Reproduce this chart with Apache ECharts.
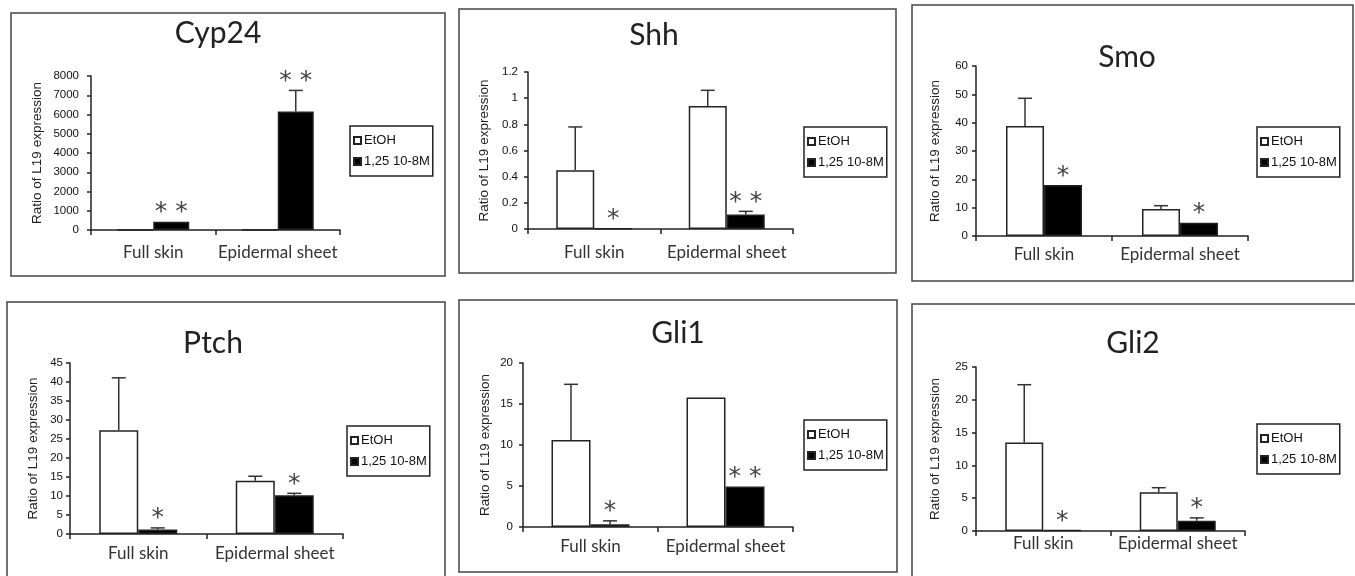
<!DOCTYPE html>
<html><head><meta charset="utf-8">
<script src="https://cdn.jsdelivr.net/npm/echarts@6/dist/echarts.min.js"></script>
<style>html,body{margin:0;padding:0;background:#fff}#c{width:1355px;height:576px}</style>
</head><body><div id="c"></div>
<script>
// ---- data ----
const categories = ['Full skin', 'Epidermal sheet'];
const seriesNames = ['EtOH', '1,25 10-8M'];
const yAxisName = 'Ratio of L19 expression';

const cyp24EtOH = [0, 0];
const cyp24EtOHErr = [0, 0];
const cyp24Vit = [430, 6150];
const cyp24VitErr = [0, 1100];
const cyp24Sig = ['**', '**'];

const shhEtOH = [0.45, 0.94];
const shhEtOHErr = [0.33, 0.12];
const shhVit = [0.003, 0.11];
const shhVitErr = [0, 0.025];
const shhSig = ['*', '**'];

const smoEtOH = [38.8, 9.5];
const smoEtOHErr = [9.8, 1.2];
const smoVit = [18.0, 4.7];
const smoVitErr = [0, 0];
const smoSig = ['*', '*'];

const ptchEtOH = [27.3, 14.0];
const ptchEtOHErr = [13.8, 1.2];
const ptchVit = [1.2, 10.2];
const ptchVitErr = [0.4, 0.5];
const ptchSig = ['*', '*'];

const gli1EtOH = [10.6, 15.8];
const gli1EtOHErr = [6.8, 0];
const gli1Vit = [0.35, 4.95];
const gli1VitErr = [0.4, 0];
const gli1Sig = ['*', '**'];

const gli2EtOH = [13.5, 5.9];
const gli2EtOHErr = [8.8, 0.7];
const gli2Vit = [0.15, 1.55];
const gli2VitErr = [0, 0.45];
const gli2Sig = ['*', '*'];

const panels = [
  {title:'Cyp24', etoh:cyp24EtOH, etohErr:cyp24EtOHErr, vit:cyp24Vit, vitErr:cyp24VitErr, sig:cyp24Sig, max:8000, interval:1000},
  {title:'Shh', etoh:shhEtOH, etohErr:shhEtOHErr, vit:shhVit, vitErr:shhVitErr, sig:shhSig, max:1.2, interval:0.2},
  {title:'Smo', etoh:smoEtOH, etohErr:smoEtOHErr, vit:smoVit, vitErr:smoVitErr, sig:smoSig, max:60, interval:10},
  {title:'Ptch', etoh:ptchEtOH, etohErr:ptchEtOHErr, vit:ptchVit, vitErr:ptchVitErr, sig:ptchSig, max:45, interval:5},
  {title:'Gli1', etoh:gli1EtOH, etohErr:gli1EtOHErr, vit:gli1Vit, vitErr:gli1VitErr, sig:gli1Sig, max:20, interval:5},
  {title:'Gli2', etoh:gli2EtOH, etohErr:gli2EtOHErr, vit:gli2Vit, vitErr:gli2VitErr, sig:gli2Sig, max:25, interval:5}
];

// ---- layout (pixels) ----
const layout = [
  {box:[11,13,434,263], grid:[91,76,249,154], bw:36, title:[218,33], legend:[350,126], nameGap:47, xMargin:14, yMargin:12},
  {box:[459,9,437,264], grid:[528,72,265,157], bw:38, title:[654,35], legend:[804,127], nameGap:37, xMargin:15, yMargin:10},
  {box:[912,5,441,276], grid:[976,66,272,170], bw:38, title:[1127,57], legend:[1257,127], nameGap:34, xMargin:10, yMargin:8},
  {box:[7,302,438,280], grid:[70,363,273,171], bw:39, title:[213,343], legend:[347,426], nameGap:30, xMargin:11, yMargin:7},
  {box:[459,300,438,272], grid:[523,363,270,164], bw:39, title:[678,333], legend:[804,420], nameGap:31, xMargin:11, yMargin:10},
  {box:[912,304,450,280], grid:[976,367,269,164], bw:38, title:[1133,343], legend:[1257,424], nameGap:34, xMargin:4, yMargin:8}
];

const INK = '#222';
const grids = [], xAxes = [], yAxes = [], series = [], legends = [], graphics = [];

panels.forEach((p, i) => {
  const L = layout[i];
  grids.push({left:L.grid[0], top:L.grid[1], width:L.grid[2], height:L.grid[3], containLabel:false});
  xAxes.push({
    type:'category', gridIndex:i, data:categories,
    axisLine:{lineStyle:{color:INK, width:1.5}},
    axisTick:{show:true, length:5, lineStyle:{color:INK, width:1.5}},
    axisLabel:{interval:0, fontFamily:'Lato', fontSize:17, color:'#333', margin:L.xMargin}
  });
  yAxes.push({
    type:'value', gridIndex:i, min:0, max:p.max, interval:p.interval,
    name:yAxisName, nameLocation:'middle', nameGap:L.nameGap, nameRotate:90,
    nameTextStyle:{fontFamily:'Liberation Sans', fontSize:13.5, color:'#222'},
    axisLine:{show:true, lineStyle:{color:INK, width:1.5}},
    axisTick:{show:true, length:4, lineStyle:{color:INK, width:1.5}},
    splitLine:{show:false},
    axisLabel:{fontFamily:'Liberation Sans', fontSize:11.5, color:'#111', margin:L.yMargin,
      formatter: v => String(+v.toFixed(4))}
  });
  series.push({
    name:seriesNames[0], type:'bar', xAxisIndex:i, yAxisIndex:i, data:p.etoh,
    barWidth:L.bw, barGap:'0%',
    itemStyle:{color:'#fff', borderColor:INK, borderWidth:1.5}
  });
  series.push({
    name:seriesNames[1], type:'bar', xAxisIndex:i, yAxisIndex:i, data:p.vit,
    barWidth:L.bw, barGap:'0%',
    itemStyle:{color:'#000', borderColor:INK, borderWidth:1.5}
  });
  // error bars + significance marks
  const errData = [];
  for (let k = 0; k < categories.length; k++) {
    errData.push([k, p.etoh[k], p.etohErr[k], '', 0]);
    errData.push([k, p.vit[k], p.vitErr[k], p.sig[k], 1]);
  }
  const bw = L.bw;
  series.push({
    name:'err', type:'custom', xAxisIndex:i, yAxisIndex:i, z:5, data:errData,
    renderItem:(params, api) => {
      const cat = api.value(0), val = api.value(1), err = api.value(2), sIdx = api.value(4);
      const sig = errData[params.dataIndex][3];
      const off = sIdx === 0 ? -bw/2 : bw/2;
      const base = api.coord([cat, val]);
      const x = base[0] + off;
      const top = api.coord([cat, val + err])[1];
      const children = [];
      if (err > 0) {
        children.push({type:'line', shape:{x1:x, y1:base[1], x2:x, y2:top}, style:{stroke:'#333', lineWidth:1.5}});
        children.push({type:'line', shape:{x1:x-7, y1:top, x2:x+7, y2:top}, style:{stroke:'#333', lineWidth:1.5}});
      }
      if (sig) {
        children.push({type:'text', x:x, y:Math.min(top, base[1]) - 9,
          style:{text:sig.split('').join(' '), font:'25px "DejaVu Sans"', fill:'#444', align:'center', verticalAlign:'middle'}});
      }
      return {type:'group', children};
    }
  });
  legends.push({
    show:true, data:seriesNames, orient:'vertical', left:L.legend[0], top:L.legend[1],
    icon:'rect', itemWidth:7, itemHeight:7, itemGap:6,
    backgroundColor:'#fff', borderColor:INK, borderWidth:1.5, borderRadius:0,
    padding:[7,3,7,3], selectedMode:false,
    textStyle:{fontFamily:'Liberation Sans', fontSize:13, color:'#111', lineHeight:15, padding:[0,0,0,-2]}
  });
  graphics.push({type:'rect', shape:{x:L.box[0], y:L.box[1], width:L.box[2], height:L.box[3]},
    style:{fill:'none', stroke:'#444', lineWidth:1.5}, z:-10, silent:true});
  graphics.push({type:'text', x:L.title[0], y:L.title[1],
    style:{text:p.title, font:'30px Lato', fill:'#222', align:'center', verticalAlign:'middle'}});
});

const chart = echarts.init(document.getElementById('c'), null, {renderer:'canvas'});
chart.setOption({
  animation:false,
  backgroundColor:'#fff',
  grid:grids, xAxis:xAxes, yAxis:yAxes, series:series, legend:legends,
  graphic:{elements:graphics}
});
</script>
</body></html>
